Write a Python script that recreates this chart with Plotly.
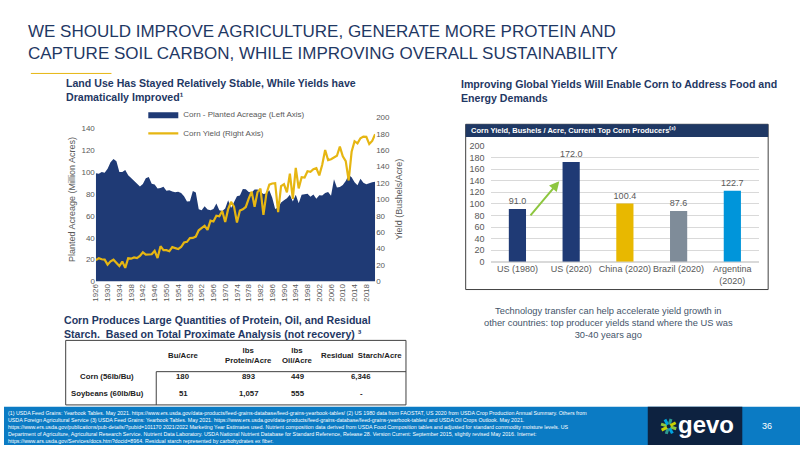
import math
import plotly.graph_objects as go

# ---------------- DATA ----------------
years = list(range(1926, 2022))
acreage = [99, 98.5, 100, 99.5, 103, 109, 112, 110, 100, 100,
           102, 97.2, 94.5, 91.6, 88.7, 86.8, 89, 94.4, 95.5, 89.3,
           88.7, 85, 85.5, 86.7, 82.9, 83.3, 82.2, 81.6, 82.1, 80.9,
           77.8, 73.2, 73.4, 82.7, 81.4, 65.9, 65.0, 68.8, 65.8, 65.2,
           66.3, 71.2, 65.1, 64.3, 66.8, 74.2, 67.1, 72.3, 77.9, 78.7,
           84.6, 84.3, 81.7, 81.4, 84.0, 84.1, 81.9, 80.0, 80.5, 83.4,
           76.6, 66.2, 67.7, 72.3, 74.2, 76.0, 79.3, 73.2, 79.2, 71.5,
           79.2, 79.5, 80.2, 77.4, 79.5, 75.7, 78.9, 78.6, 80.9, 81.8,
           78.3, 93.5, 86.0, 86.4, 88.2, 91.9, 97.3, 95.4, 90.6, 88.0,
           94.0, 90.2, 88.9, 89.7, 90.8, 91.1]
yield_bu = [25.9, 28.2, 27.0, 26.6, 20.5, 24.5, 26.5, 22.6, 18.7, 24.2,
            16.5, 28.2, 27.7, 29.3, 28.4, 31.1, 35.4, 32.6, 33.0, 33.1,
            37.2, 28.6, 43.0, 38.2, 38.2, 36.9, 41.8, 40.7, 39.4, 42.0,
            47.4, 48.3, 52.8, 53.1, 54.7, 62.4, 64.7, 67.9, 62.9, 74.1,
            73.1, 80.1, 79.5, 85.9, 72.4, 88.1, 97.0, 91.3, 71.9, 86.4,
            88.0, 90.8, 101.0, 109.5, 91.0, 108.9, 113.2, 81.1, 106.7, 118.0,
            119.4, 119.8, 84.6, 116.3, 118.5, 108.6, 131.5, 100.7, 138.6, 113.5,
            127.1, 126.7, 134.4, 133.8, 136.9, 138.2, 129.3, 142.2, 160.3, 147.9,
            149.1, 150.7, 153.3, 164.4, 152.6, 146.8, 123.1, 158.1, 171.0, 168.4,
            174.6, 176.6, 176.4, 167.5, 171.4, 179.5]
year_ticks = list(range(1926, 2019, 4))

bar_cats = ["US (1980)", "US (2020)", "China (2020)", "Brazil (2020)", "Argentina<br>(2020)"]
bar_vals = [91.0, 172.0, 100.4, 87.6, 122.7]
bar_colors = ["#1F3A75", "#1F3A75", "#E8B800", "#7F8C99", "#0095DA"]

tbl_cols = ["Bu/Acre", "lbs<br>Protein/Acre", "lbs<br>Oil/Acre", "Residual  Starch/Acre"]
tbl_rows = ["Corn (56lb/Bu)", "Soybeans (60lb/Bu)"]
tbl_vals = [["180", "893", "449", "6,346"],
            ["51", "1,057", "555", "-"]]

# ---------------- STYLE ----------------
W, H = 800, 450
NAVY = "#1F3864"
AREA = "#1F3A75"
GOLD = "#E6B612"
GRAY = "#595959"
FONT = "Liberation Sans, Arial, sans-serif"

def px(x):
    return x / W

def py(y):
    return 1 - y / H

fig = go.Figure()

fig.add_trace(go.Scatter(x=years, y=acreage, mode="lines", fill="tozeroy",
                         line=dict(width=0, color=AREA), fillcolor=AREA,
                         name="Corn - Planted Acreage (Left Axis)",
                         xaxis="x", yaxis="y"))
fig.add_trace(go.Scatter(x=years, y=yield_bu, mode="lines",
                         line=dict(width=2.2, color=GOLD),
                         name="Corn Yield (Right Axis)",
                         xaxis="x", yaxis="y2"))
fig.add_trace(go.Bar(x=bar_cats, y=bar_vals, marker=dict(color=bar_colors, line=dict(width=0)),
                     width=0.32, text=[f"{v:.1f}" for v in bar_vals], textposition="outside",
                     constraintext="none",
                     textfont=dict(size=9, color=GRAY, family=FONT), cliponaxis=False,
                     showlegend=False, xaxis="x2", yaxis="y3"))

tickfont = dict(size=8, color=GRAY, family=FONT)
fig.update_layout(
    width=W, height=H, margin=dict(l=0, r=0, t=0, b=0),
    paper_bgcolor="white", plot_bgcolor="rgba(0,0,0,0)",
    font=dict(family=FONT, color=GRAY),
    xaxis=dict(domain=[px(92.3), px(373)], range=[1926, 2021], tickvals=year_ticks,
               tickangle=-90, tickfont=tickfont, showgrid=False, zeroline=False,
               showline=False, ticks="", anchor="y"),
    yaxis=dict(domain=[py(282.7), py(115)], range=[0, 150], tickvals=list(range(0, 141, 20)),
               tickfont=tickfont, showgrid=False, zeroline=False, ticks="",
               title=dict(text="Planted Acreage (Million Acres)", font=dict(size=9, color=GRAY), standoff=4),
               anchor="x"),
    yaxis2=dict(domain=[py(282.7), py(115)], range=[0, 200], dtick=20, overlaying="y", side="right",
                tickfont=tickfont, showgrid=False, zeroline=False, ticks="",
                title=dict(text="Yield (Bushels/Acre)", font=dict(size=9, color=GRAY), standoff=6),
                anchor="x"),
    xaxis2=dict(domain=[px(489), px(759)], tickfont=dict(size=9, color=GRAY, family=FONT),
                showgrid=False, zeroline=False, showline=False, ticks="", anchor="y3"),
    yaxis3=dict(domain=[py(262.7), py(144)], range=[0, 200], dtick=20,
                tickfont=dict(size=9, color=GRAY, family=FONT), showgrid=True,
                gridcolor="#D9D9D9", gridwidth=1, zeroline=True, zerolinecolor="#D9D9D9",
                ticks="", ticklabelstandoff=5, anchor="x2"),
    legend=dict(x=px(140), y=py(97), xanchor="left", yanchor="top", bgcolor="rgba(0,0,0,0)",
                font=dict(size=8, color=GRAY), itemwidth=30, tracegroupgap=0),
    showlegend=True,
)

ann = []
shapes = []

def note(text, x, y, xa="left", ya="top", align="left", font=None):
    ann.append(dict(text=text, x=px(x), y=py(y), xref="paper", yref="paper",
                    xanchor=xa, yanchor=ya, align=align, showarrow=False, font=font))

def pline(x0, y0, x1, y1, color, width=1):
    shapes.append(dict(type="line", xref="paper", yref="paper", x0=px(x0), x1=px(x1),
                       y0=py(y0), y1=py(y1), line=dict(color=color, width=width)))

def prect(x0, y0, x1, y1, fill=None, line_color=None, lw=1, layer="above"):
    shapes.append(dict(type="rect", xref="paper", yref="paper", x0=px(x0), x1=px(x1),
                       y0=py(y1), y1=py(y0), layer=layer,
                       line=dict(color=line_color or "rgba(0,0,0,0)", width=lw if line_color else 0),
                       fillcolor=fill or "rgba(0,0,0,0)"))

# main title
note("WE SHOULD IMPROVE AGRICULTURE, GENERATE MORE PROTEIN AND<br>CAPTURE SOIL CARBON, WHILE IMPROVING OVERALL SUSTAINABILITY",
     22, 15, font=dict(size=17, color=NAVY, family=FONT))
pline(27, 70, 108, 70, GOLD, 1)

sub_font = dict(size=10.6, color=NAVY, family=FONT)
note("<b>Land Use Has Stayed Relatively Stable, While Yields have<br>Dramatically Improved¹</b>", 60, 72, font=sub_font)
note("<b>Improving Global Yields Will Enable Corn to Address Food and<br>Energy Demands</b>", 457, 73, font=sub_font)
note("<b>Corn Produces Large Quantities of Protein, Oil, and Residual<br>Starch.  Based on Total Proximate Analysis (not recovery) ³</b>",
     58, 314, font=sub_font)

# bar chart box and header
prect(464, 122, 768, 291, line_color="#404040")
prect(464, 122, 768, 135, fill=NAVY)
note("<b>Corn Yield, Bushels / Acre, Current Top Corn Producers⁽²⁾</b>", 467, 128.5, ya="middle",
     font=dict(size=7.5, color="white", family=FONT))
# growth arrow
ann.append(dict(x=0.78, y=139, ax=0.22, ay=77.5, xref="x2", yref="y3", axref="x2", ayref="y3",
                showarrow=True, arrowhead=2, arrowsize=1, arrowwidth=2, arrowcolor="#8DC63F", text=""))

note("Technology transfer can help accelerate yield growth in<br>other countries: top producer yields stand where the US was<br>30-40 years ago",
     608, 306, xa="center", align="center", font=dict(size=9.3, color="#44546A", family=FONT))

# table
tx0, tx1, tv = 62, 404, 153
ty0, ty1, tmid = 343, 409, 375
prect(tx0, ty0, tx1, ty1, line_color="#404040")
pline(tv, tmid, tv, ty1, "#404040")
pline(tv, tmid, tx1, tmid, "#404040")
col_x = [180, 246, 295, 359]
row_y = [380, 397]
tfont = dict(size=7.8, color="#222222", family=FONT)
for cx, c in zip(col_x, tbl_cols):
    note(f"<b>{c}</b>", cx, 358, xa="center", ya="middle", align="center", font=tfont)
for ry, rname, rv in zip(row_y, tbl_rows, tbl_vals):
    note(f"<b>{rname}</b>", 104, ry, xa="center", ya="middle", font=tfont)
    for cx, v in zip(col_x, rv):
        note(f"<b>{v}</b>", cx, ry, xa="center", ya="middle", font=tfont)

# footer
prect(0, 411, 800, 450, fill="#0B7BC4", layer="below")
prect(647, 411, 742, 450, fill="#0D2240", layer="below")
foot = ("(1) USDA Feed Grains: Yearbook Tables. May 2021. https://www.ers.usda.gov/data-products/feed-grains-database/feed-grains-yearbook-tables/ (2) US 1980 data from FAOSTAT, US 2020 from USDA Crop Production Annual Summary. Others from<br>"
        "USDA Foreign Agricultural Service (3) USDA Feed Grains: Yearbook Tables. May 2021. https://www.ers.usda.gov/data-products/feed-grains-database/feed-grains-yearbook-tables/ and USDA Oil Crops Outlook. May 2021.<br>"
        "https://www.ers.usda.gov/publications/pub-details/?pubid=101170 2021/2022 Marketing Year Estimates used. Nutrient composition data derived from USDA Food Composition tables and adjusted for standard commodity moisture levels. US<br>"
        "Department of Agriculture, Agricultural Research Service. Nutrient Data Laboratory. USDA National Nutrient Database for Standard Reference, Release 28. Version Current: September 2015, slightly revised May 2016. Internet:<br>"
        "https://www.ars.usda.gov/Services/docs.htm?docid=8964. Residual starch represented by carbohydrates ex fiber.")
note(foot, 2, 412, font=dict(size=5.3, color="white", family=FONT))
note("<b>gevo</b>", 706, 429, xa="center", ya="middle", font=dict(size=24, color="white", family=FONT))
note("36", 767, 431, xa="center", ya="middle", font=dict(size=9, color="white", family=FONT))
# logo starburst
petal_cols = ["#8DC63F", "#00A3E0", "#2E9B8F", "#C9D200", "#8DC63F", "#00A3E0", "#2E9B8F", "#C9D200"]
cx0, cy0 = 668, 431
for i, col in enumerate(petal_cols):
    a = i * math.pi / 4 + 0.3
    pline(cx0 + 2 * math.cos(a), cy0 + 2 * math.sin(a), cx0 + 8 * math.cos(a), cy0 + 8 * math.sin(a), col, 3)

fig.update_layout(annotations=ann, shapes=shapes)
fig.write_html("out.html", config={"displayModeBar": False},
               post_script="document.body.style.margin='0';document.body.style.overflow='hidden';")
